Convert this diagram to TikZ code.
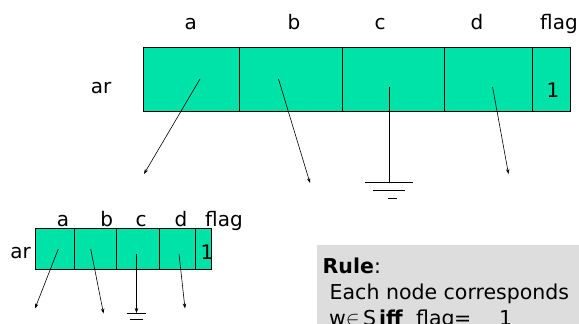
\documentclass[tikz,border=0pt]{standalone}
\usepackage{fontspec}
\setmainfont{DejaVu Sans}
\usetikzlibrary{arrows.meta}
\definecolor{cellgreen}{RGB}{0,227,168}
\definecolor{rulegray}{RGB}{221,221,221}
\begin{document}
\begin{tikzpicture}[x=1pt,y=-1pt,
  cell/.style={draw=black, fill=cellgreen, line width=0.8pt, inner sep=0pt, outer sep=0pt, anchor=north west},
  lbl/.style={anchor=base, inner sep=0pt, font=\fontsize{20}{24}\selectfont},
  ptr/.style={line width=0.6pt, -{Stealth[length=5pt,width=3.5pt]}},
  gnd/.style={line width=0.9pt},
  ruletxt/.style={anchor=base west, inner sep=0pt, font=\fontsize{20.5}{24}\selectfont}]
\useasboundingbox (0,0) rectangle (579,324);
\clip (0,0) rectangle (579,324);
% ---------- top array ----------
\node[cell, minimum width=95.2pt, minimum height=63.5pt] (ta) at (143.7,47.5) {};
\node[cell, minimum width=103pt, minimum height=63.5pt] (tb) at (238.9,47.5) {};
\node[cell, minimum width=102.9pt, minimum height=63.5pt] (tc) at (341.9,47.5) {};
\node[cell, minimum width=87.4pt, minimum height=63.5pt] (td) at (444.8,47.5) {};
\node[cell, minimum width=38.3pt, minimum height=63.5pt] (tf) at (532.2,47.5) {};
\node[lbl] (tla) at (190.7,29.5) {a};
\node[lbl] (tlb) at (294,29.5) {b};
\node[lbl] (tlc) at (380,29.5) {c};
\node[lbl] (tld) at (477,29.5) {d};
\node[lbl] (tlf) at (559,29.5) {flag};
\node[lbl] (tar) at (101,93) {ar};
\node[lbl] (tone) at (553,97) {1};
\coordinate (tas) at (200,79);   \coordinate (tae) at (144,174);
\coordinate (tbs) at (278.5,79); \coordinate (tbe) at (310,183);
\coordinate (tcs) at (389.6,87); \coordinate (tce) at (389.6,182);
\coordinate (tds) at (492.6,87); \coordinate (tde) at (508.5,174);
\draw[ptr] (tas) -- (tae);
\draw[ptr] (tbs) -- (tbe);
\draw[line width=0.8pt] (tcs) -- (tce);
\draw[ptr] (tds) -- (tde);
\draw[gnd] (365,182) -- (412.5,182);
\draw[gnd] (373,190.5) -- (404.5,190.5);
\draw[gnd] (388,198.5) -- (397,198.5);
% ---------- bottom array ----------
\node[cell, minimum width=38.6pt, minimum height=40.7pt] (ba) at (35.7,228.3) {};
\node[cell, minimum width=42.4pt, minimum height=40.7pt] (bb) at (74.3,228.3) {};
\node[cell, minimum width=42.6pt, minimum height=40.7pt] (bc) at (116.7,228.3) {};
\node[cell, minimum width=36pt, minimum height=40.7pt] (bd) at (159.3,228.3) {};
\node[cell, minimum width=16pt, minimum height=40.7pt] (bf) at (195.3,228.3) {};
\node[lbl] (bla) at (63,226.5) {a};
\node[lbl] (blb) at (106.7,226.5) {b};
\node[lbl] (blc) at (141,226.5) {c};
\node[lbl] (bld) at (181,226.5) {d};
\node[lbl] (blf) at (224,226.5) {flag};
\node[lbl] (bar) at (20.5,258) {ar};
\node[lbl] (bone) at (207,259) {1};
\coordinate (bas) at (58.3,249);  \coordinate (bae) at (35,308.5);
\coordinate (bbs) at (90.7,249);  \coordinate (bbe) at (103.5,313.5);
\coordinate (bcs) at (136.5,254); \coordinate (bce) at (136.5,313);
\coordinate (bds) at (179,254);   \coordinate (bde) at (185,308.5);
\draw[ptr] (bas) -- (bae);
\draw[ptr] (bbs) -- (bbe);
\draw[ptr] (bcs) -- (bce);
\draw[ptr] (bds) -- (bde);
\draw[gnd] (126.7,313.5) -- (146,313.5);
\draw[gnd] (130,319.5) -- (142.7,319.5);
\draw[gnd] (134.5,325) -- (138.5,325);
% ---------- rule box ----------
\fill[rulegray] (316.7,245) rectangle (585,330);
\node[ruletxt] (r1) at (322.5,273) {\textbf{Rule}:};
\node[ruletxt] (r2) at (323,299) {\ Each node corresponds};
\node[ruletxt] (r3) at (329,325) {\makebox[50pt][l]{w$\in$\,S}\makebox[37pt][l]{\textbf{iff}}\makebox[38pt][l]{flag}\makebox[45pt][l]{=}1};
\end{tikzpicture}
\end{document}
